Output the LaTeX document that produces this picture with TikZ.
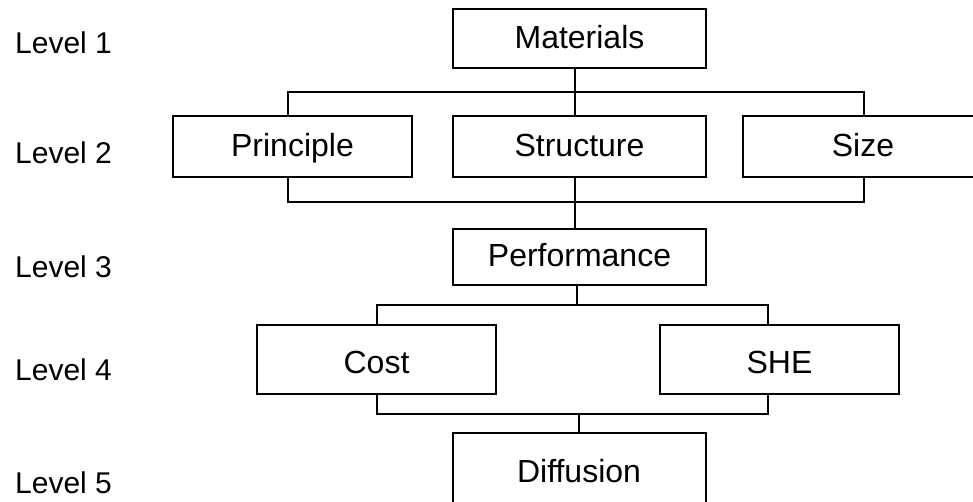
\documentclass[tikz,border=0pt]{standalone}
\usepackage{fontspec}
\setmainfont{Liberation Sans}
\begin{document}
\begin{tikzpicture}[x=1pt,y=-1pt,
  every node/.style={inner sep=0pt},
  box/.style={draw=black, line width=2pt, fill=white, rectangle,
    font=\fontsize{32}{38}\selectfont, text height=22pt, text depth=3pt},
  link/.style={draw=black, line width=1.3pt},
  lvl/.style={anchor=west, font=\fontsize{30}{36}\selectfont}]
  \fill[white] (0,0) rectangle (973,501);
  \clip (0,0) rectangle (973,501);
  \useasboundingbox (0,0) rectangle (973,501);

  % level labels
  \node[lvl] (l1) at (15,43)  {Level 1};
  \node[lvl] (l2) at (15,153) {Level 2};
  \node[lvl] (l3) at (15,267) {Level 3};
  \node[lvl] (l4) at (15,370) {Level 4};
  \node[lvl] (l5) at (15,483) {Level 5};

  % bus junctions
  \coordinate (b1L) at (288,92);  \coordinate (b1C) at (575,92);  \coordinate (b1R) at (864,92);
  \coordinate (b2L) at (288,202); \coordinate (b2C) at (575,202); \coordinate (b2R) at (864,202);
  \coordinate (b3L) at (377,305); \coordinate (b3C) at (577,305); \coordinate (b3R) at (768,305);
  \coordinate (b4L) at (377,414); \coordinate (b4C) at (579,414); \coordinate (b4R) at (768,414);

  % boxes
  \node[box, minimum width=253pt, minimum height=59pt] (mat)    at (579.5,38.5) {Materials};
  \node[box, minimum width=239pt, minimum height=61pt] (prin)   at (292.5,146.5) {Principle};
  \node[box, minimum width=253pt, minimum height=61pt] (struct) at (579.5,146.5) {Structure};
  \node[box, minimum width=240pt, minimum height=61pt] (size)   at (863,146.5) {Size};
  \node[box, minimum width=253pt, minimum height=56pt] (perf)   at (579.5,257) {Performance};
  \node[box, minimum width=239pt, minimum height=69pt, text height=30pt] (cost) at (376.5,359.5) {Cost};
  \node[box, minimum width=239pt, minimum height=69pt, text height=30pt] (she)  at (779.5,359.5) {SHE};
  \node[box, minimum width=253pt, minimum height=80pt] (diff)   at (579,473) {Diffusion};

  % connectors
  \draw[link] (mat.south -| b1C) -- (b1C) -- (struct.north -| b1C);
  \draw[link] (prin.north -| b1L) -- (b1L) -- (b1R) -- (size.north -| b1R);

  \draw[link] (prin.south -| b2L) -- (b2L) -- (b2R) -- (size.south -| b2R);
  \draw[link] (struct.south -| b2C) -- (perf.north -| b2C);

  \draw[link] (perf.south -| b3C) -- (b3C);
  \draw[link] (cost.north -| b3L) -- (b3L) -- (b3R) -- (she.north -| b3R);

  \draw[link] (cost.south -| b4L) -- (b4L) -- (b4R) -- (she.south -| b4R);
  \draw[link] (b4C) -- (diff.north -| b4C);
\end{tikzpicture}
\end{document}
